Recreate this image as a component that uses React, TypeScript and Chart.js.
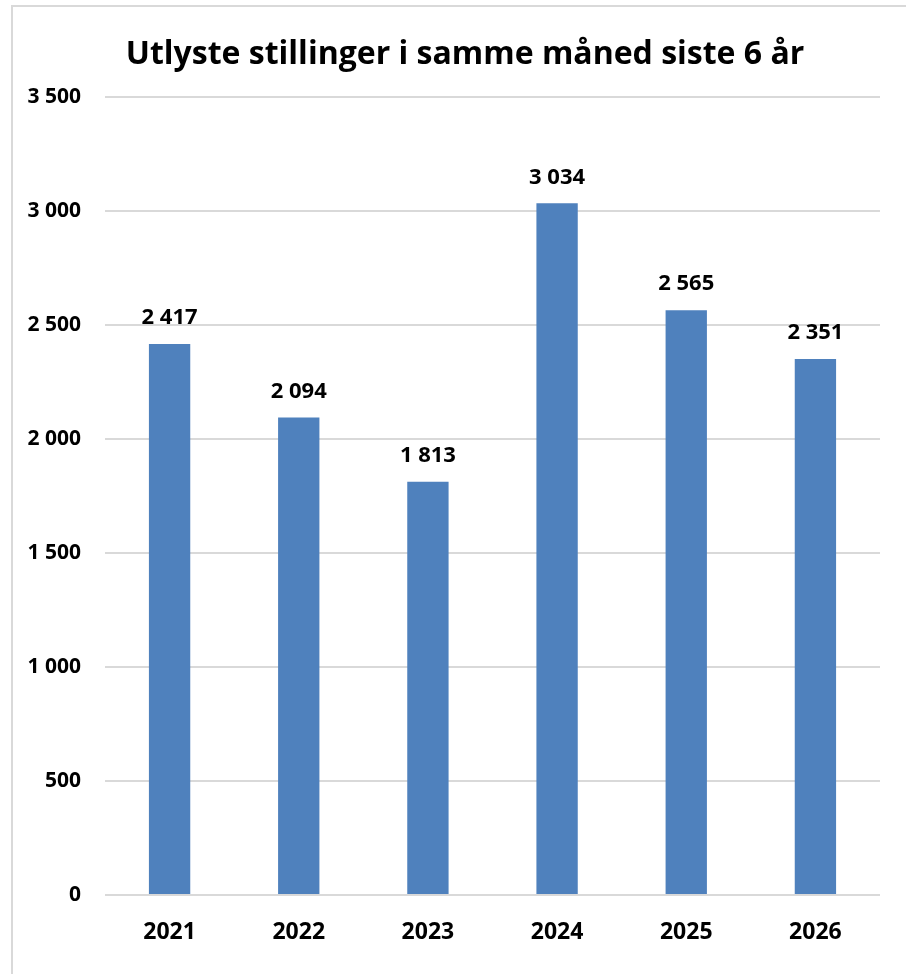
import React, { useEffect, useRef } from "react";
import { Chart, registerables } from "chart.js";

Chart.register(...registerables);

const TITLE = "Utlyste stillinger i samme måned siste 6 år";
const YEARS = ["2021", "2022", "2023", "2024", "2025", "2026"];
const VALUES = [2417, 2094, 1813, 3034, 2565, 2351];
const Y_MIN = 0;
const Y_MAX = 3500;
const Y_STEP = 500;

const FONT = "'Open Sans', 'DejaVu Sans', sans-serif";

const fmt = (v: number) => String(Math.round(v)).replace(/\B(?=(\d{3})+(?!\d))/g, " ");

const valueLabels = {
  id: "valueLabels",
  afterDatasetsDraw(chart: any) {
    const ctx = chart.ctx;
    const meta = chart.getDatasetMeta(0);
    ctx.save();
    ctx.font = `bold 22px ${FONT}`;
    ctx.fillStyle = "#000000";
    ctx.textAlign = "center";
    ctx.textBaseline = "middle";
    meta.data.forEach((bar: any, i: number) => {
      ctx.fillText(fmt(VALUES[i]), bar.x, bar.y - 26);
    });
    ctx.restore();
  },
};

const boxTitle = {
  id: "boxTitle",
  afterDraw(chart: any) {
    const ctx = chart.ctx;
    ctx.save();
    ctx.font = `bold 32px ${FONT}`;
    ctx.fillStyle = "#000000";
    ctx.textAlign = "center";
    ctx.textBaseline = "middle";
    ctx.fillText(TITLE, chart.width / 2, 55);
    ctx.restore();
  },
};

export default function App() {
  const ref = useRef<HTMLCanvasElement | null>(null);
  useEffect(() => {
    if (!ref.current) return;
    const chart = new Chart(ref.current, {
      type: "bar",
      data: {
        labels: YEARS,
        datasets: [
          {
            data: VALUES,
            backgroundColor: "#4F81BD",
            borderWidth: 0,
            barPercentage: 0.32,
            categoryPercentage: 1,
          },
        ],
      },
      options: {
        animation: false,
        responsive: false,
        maintainAspectRatio: false,
        layout: { padding: { left: 0, right: 38, top: 97, bottom: 0 } },
        plugins: {
          legend: { display: false },
          tooltip: { enabled: false },
          title: { display: false },
        },
        scales: {
          x: {
            grid: { display: false },
            border: { display: false },
            ticks: {
              color: "#000000",
              font: { family: FONT, size: 23, weight: "bold" },
              padding: 16,
            },
            afterFit: (s: any) => {
              s.height = 79;
            },
          },
          y: {
            min: Y_MIN,
            max: Y_MAX,
            border: { display: false },
            grid: { color: "#d9d9d9", lineWidth: 2, drawTicks: false },
            ticks: {
              stepSize: Y_STEP,
              color: "#000000",
              font: { family: FONT, size: 21, weight: "bold" },
              padding: 24,
              callback: (v: any) => fmt(Number(v)),
            },
            afterFit: (s: any) => {
              s.width = 93;
            },
          },
        },
      },
      plugins: [valueLabels, boxTitle],
    });
    return () => chart.destroy();
  }, []);

  return (
    <div
      style={{
        position: "fixed",
        left: 0,
        top: 0,
        width: 906,
        height: 974,
        overflow: "hidden",
        background: "#ffffff",
      }}
    >
      <div
        style={{
          position: "absolute",
          left: 11,
          top: 5,
          width: 1000,
          height: 1100,
          border: "2px solid #d9d9d9",
          boxSizing: "border-box",
        }}
      />
      <canvas
        ref={ref}
        width={906}
        height={974}
        style={{ position: "absolute", left: 12, top: 0, width: 906, height: 974 }}
      />
    </div>
  );
}
